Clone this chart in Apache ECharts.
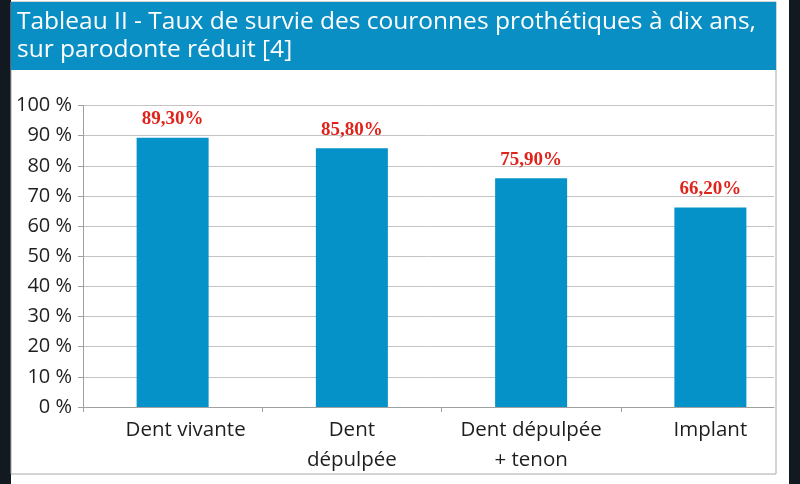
<!DOCTYPE html>
<html>
<head>
<meta charset="utf-8">
<script src="https://cdn.jsdelivr.net/npm/echarts@6/dist/echarts.min.js"></script>
<style>
html,body{margin:0;padding:0;background:#131921;}
#c{width:800px;height:484px;}
</style>
</head>
<body>
<div id="c"></div>
<script>
var titleLines = ['Tableau II - Taux de survie des couronnes prothétiques à dix ans,', 'sur parodonte réduit [4]'];
var categories = ['Dent vivante', 'Dent\ndépulpée', 'Dent dépulpée\n+ tenon', 'Implant'];
var survival = [89.3, 85.8, 75.9, 66.2];
var valueLabels = ['89,30%', '85,80%', '75,90%', '66,20%'];
var yMin = 0, yMax = 100, yStep = 10;

var chart = echarts.init(document.getElementById('c'), null, {renderer: 'canvas'});
var plotTop = 105.5, plotH = 301.5, plotLeft = 83;
var font = 'Open Sans';

chart.setOption({
  animation: false,
  backgroundColor: '#131921',
  graphic: [
    {type: 'rect', z: -10, shape: {x: 11, y: 0, width: 778, height: 484}, style: {fill: '#ffffff'}},
    {type: 'rect', z: -9, shape: {x: 11, y: 2, width: 765, height: 472}, style: {fill: '#ffffff', stroke: '#a8a8a8', lineWidth: 1}},
    {type: 'rect', z: -8, shape: {x: 11, y: 2, width: 765, height: 68}, style: {fill: '#0a8fc5'}},
    {type: 'text', z: 5, left: 17, top: 8, style: {text: titleLines.join('\n'), fill: '#ffffff', font: '24.5px "' + font + '"', lineHeight: 28}}
  ],
  grid: [
    {left: plotLeft, top: plotTop, width: 691, height: plotH},
    {left: plotLeft, top: plotTop, width: 718, height: plotH}
  ],
  xAxis: [
    {type: 'category', gridIndex: 0, data: categories, axisLine: {lineStyle: {color: '#a0a0a0'}}, axisTick: {show: false}, axisLabel: {show: false}},
    {type: 'category', gridIndex: 1, data: categories.map(function (c, i) {
        return i === 0 ? {value: c, textStyle: {padding: [0, 0, 0, 26]}} : c;
      }),
      axisLine: {show: false},
      axisTick: {show: true, interval: 0, length: 5, lineStyle: {color: '#a0a0a0'}},
      axisLabel: {interval: 0, hideOverlap: false, color: '#1e1e1e', fontFamily: font, fontSize: 20.5, lineHeight: 30, margin: 8}}
  ],
  yAxis: [
    {type: 'value', gridIndex: 0, min: yMin, max: yMax, interval: yStep,
      axisLine: {show: true, lineStyle: {color: '#a0a0a0'}},
      axisTick: {show: true, length: 5, lineStyle: {color: '#a0a0a0'}},
      splitLine: {lineStyle: {color: '#c4c4c4'}},
      axisLabel: {color: '#1e1e1e', fontFamily: font, fontSize: 20, margin: 11, formatter: function (v) { return v + ' %'; }}},
    {type: 'value', gridIndex: 1, min: yMin, max: yMax, interval: yStep, show: false, splitLine: {show: false}}
  ],
  series: [{
    type: 'bar',
    xAxisIndex: 1, yAxisIndex: 1,
    data: survival,
    barWidth: 72,
    itemStyle: {color: '#0592c8'},
    label: {
      show: true, position: 'top', distance: 9,
      formatter: function (p) { return valueLabels[p.dataIndex]; },
      color: '#e0231b', fontFamily: 'Liberation Serif', fontWeight: 'bold', fontSize: 19
    }
  }]
});
</script>
</body>
</html>
